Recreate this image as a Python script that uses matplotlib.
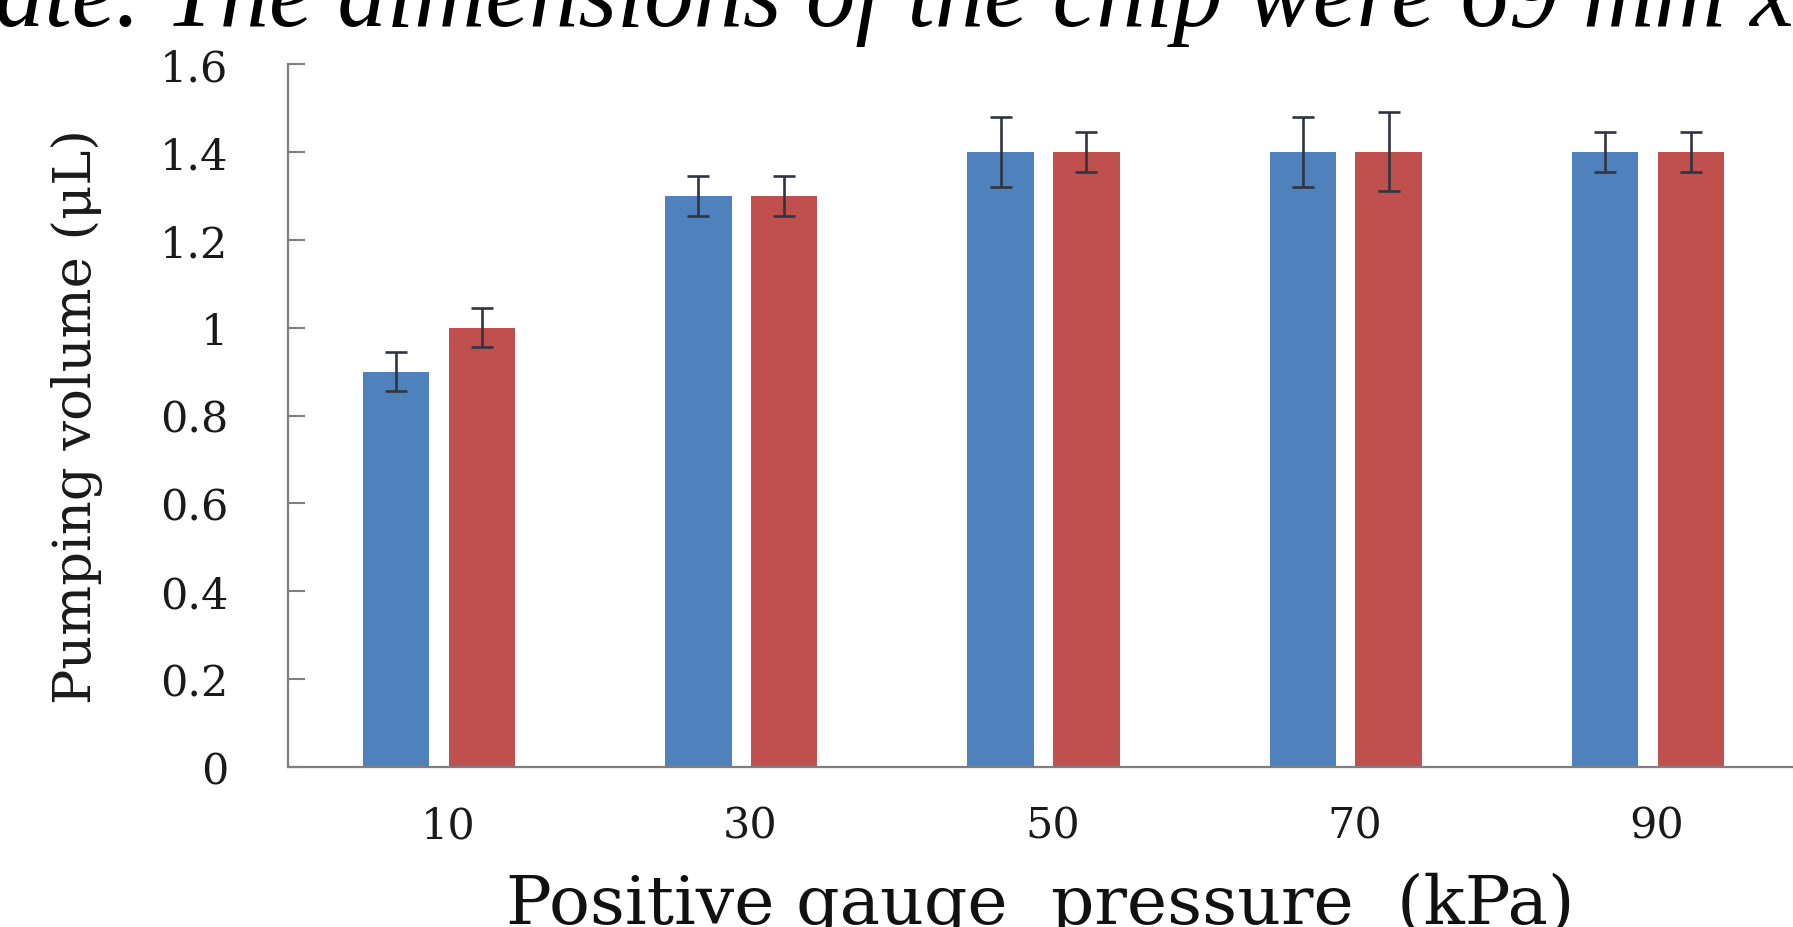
import matplotlib
matplotlib.use('Agg')
import matplotlib.pyplot as plt
import numpy as np

#%% data
pressure_ = ['10', '30', '50', '70', '90']            # kPa
vol_blue_ = [0.9, 1.3, 1.4, 1.4, 1.4]                 # uL
err_blue_ = [0.045, 0.045, 0.08, 0.08, 0.045]
vol_red_ = [1.0, 1.3, 1.4, 1.4, 1.4]
err_red_ = [0.045, 0.045, 0.045, 0.09, 0.045]
yticks_ = [0, 0.2, 0.4, 0.6, 0.8, 1.0, 1.2, 1.4, 1.6]
ytick_labels_ = ['0', '0.2', '0.4', '0.6', '0.8', '1', '1.2', '1.4', '1.6']

#%% plot
plt.rcParams['font.family'] = 'DejaVu Serif'

fig = plt.figure(figsize=(17.93, 9.28), dpi=100)
ax = fig.add_axes([288/1793, 1 - 768/928, 1 - 288/1793, (768 - 65)/928])

x_ = np.arange(len(pressure_))
w_ = 0.22
off_ = 0.142
ekw_ = dict(ecolor='#2f3540', elinewidth=1.9, capsize=8, capthick=1.9)
ax.bar(x_ - off_, vol_blue_, w_, color='#4f81bd', yerr=err_blue_, error_kw=ekw_, zorder=2)
ax.bar(x_ + off_, vol_red_, w_, color='#c0504d', yerr=err_red_, error_kw=ekw_, zorder=2)

ax.set_xlim(-0.5, 4.48)
ax.set_ylim(0, 1.6)
ax.set_yticks(yticks_)
ax.set_yticklabels(ytick_labels_, fontsize=31, color='#1a1a1a')
ax.set_xticks(x_ + 0.03)
ax.set_xticklabels(pressure_, fontsize=31, color='#1a1a1a')
ax.tick_params(axis='y', direction='in', length=12, width=1.5, color='#7f7f7f', pad=43)
ax.tick_params(axis='x', length=0, pad=27)

for s_ in ['top', 'right']:
    ax.spines[s_].set_visible(False)
for s_ in ['left', 'bottom']:
    ax.spines[s_].set_color('#7f7f7f')
    ax.spines[s_].set_linewidth(1.6)

ax.set_xlabel('Positive gauge  pressure  (kPa)', fontsize=49, color='#111111', va='baseline')
ax.xaxis.set_label_coords(0.5, (768 - 924)/703)
ax.set_ylabel('Pumping volume (\u03bcL)', fontsize=38, color='#1a1a1a', va='center')
ax.yaxis.set_label_coords((77 - 288)/1505, 0.5)

# caption text of the page, cut off at the top
fig.text(-0.003, 1 - 26/928, 'ate. The dimensions of the chip were 69 mm x',
         fontsize=71, family='Liberation Serif', style='italic', va='baseline', ha='left')

fig.savefig('out.png', dpi=100)
